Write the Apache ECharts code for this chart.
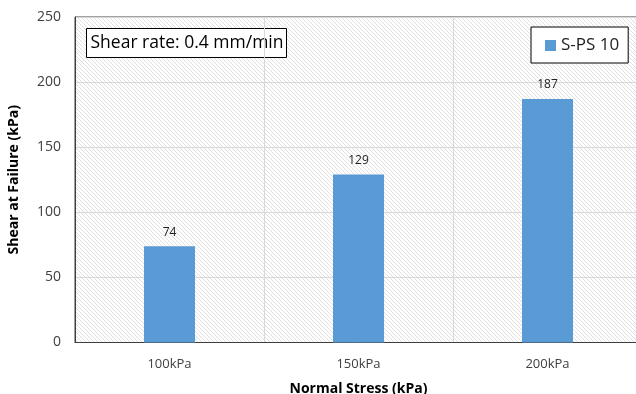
<!DOCTYPE html>
<html>
<head>
<meta charset="utf-8">
<script src="https://cdn.jsdelivr.net/npm/echarts@6/dist/echarts.min.js"></script>
<style>
html,body{margin:0;padding:0;background:#fff;}
#chart{width:636px;height:394px;}
</style>
</head>
<body>
<div id="chart"></div>
<script>
var categories = ['100kPa', '150kPa', '200kPa'];
var shearValues = [74, 129, 187];
var seriesName = 'S-PS 10';
var yTicks = [0, 50, 100, 150, 200, 250];
var annotation = 'Shear rate: 0.4 mm/min';

var FONT = '"Open Sans", "Noto Sans", sans-serif';

// hatch pattern
var pc = document.createElement('canvas');
pc.width = 4; pc.height = 4;
var ctx = pc.getContext('2d');
ctx.fillStyle = '#ffffff';
ctx.fillRect(0, 0, 4, 4);
ctx.strokeStyle = '#e0e0e0';
ctx.lineWidth = 1;
ctx.beginPath();
ctx.moveTo(0, 0); ctx.lineTo(4, 4);
ctx.moveTo(-2, 2); ctx.lineTo(2, 6);
ctx.moveTo(2, -2); ctx.lineTo(6, 2);
ctx.stroke();

var chart = echarts.init(document.getElementById('chart'), null, {renderer: 'canvas'});
chart.setOption({
  animation: false,
  grid: {
    left: 75, top: 17, width: 567, height: 325.5,
    outerBoundsMode: 'none',
    containLabel: false,
    show: true,
    backgroundColor: {image: pc, repeat: 'repeat'},
    borderColor: '#404040', borderWidth: 1
  },
  legend: {
    left: 531, top: 27,
    padding: [10, 9, 9, 14],
    borderColor: '#000', borderWidth: 1,
    backgroundColor: '#fff',
    itemWidth: 11, itemHeight: 11, itemGap: 5,
    icon: 'rect',
    textStyle: {fontFamily: FONT, fontSize: 17, color: '#222'},
    data: [seriesName]
  },
  xAxis: {
    type: 'category',
    data: categories,
    name: 'Normal Stress (kPa)',
    nameLocation: 'middle',
    nameGap: 40,
    nameTextStyle: {fontFamily: FONT, fontSize: 14, fontWeight: 'bold', color: '#000'},
    axisLine: {lineStyle: {color: '#404040', width: 1}},
    axisTick: {show: false},
    axisLabel: {fontFamily: FONT, fontSize: 13, color: '#404040', margin: 15},
    splitLine: {show: true, lineStyle: {color: '#d9d9d9', width: 1}}
  },
  yAxis: {
    type: 'value',
    min: yTicks[0], max: yTicks[yTicks.length - 1], interval: 50,
    name: 'Shear at Failure (kPa)',
    nameLocation: 'middle',
    nameGap: 54,
    nameTextStyle: {fontFamily: FONT, fontSize: 14, fontWeight: 'bold', color: '#000'},
    axisLine: {show: true, lineStyle: {color: '#404040', width: 1}},
    axisTick: {show: false},
    axisLabel: {fontFamily: FONT, fontSize: 14, color: '#404040', margin: 14},
    splitLine: {show: true, lineStyle: {color: '#d9d9d9', width: 1}}
  },
  graphic: [{
    type: 'group', left: 86, top: 28,
    children: [
      {type: 'rect', shape: {x: 0, y: 0, width: 200, height: 29}, style: {fill: '#fff', stroke: '#000', lineWidth: 1}},
      {type: 'text', x: 4, y: 14.5, style: {text: annotation, fontFamily: FONT, fontSize: 17.5, fill: '#000', verticalAlign: 'middle'}}
    ]
  }],
  series: [{
    name: seriesName,
    type: 'bar',
    data: shearValues,
    barWidth: 51,
    itemStyle: {color: '#5b9bd5'},
    label: {show: true, position: 'top', distance: 8, fontFamily: FONT, fontSize: 12, color: '#222'}
  }]
});
</script>
</body>
</html>
